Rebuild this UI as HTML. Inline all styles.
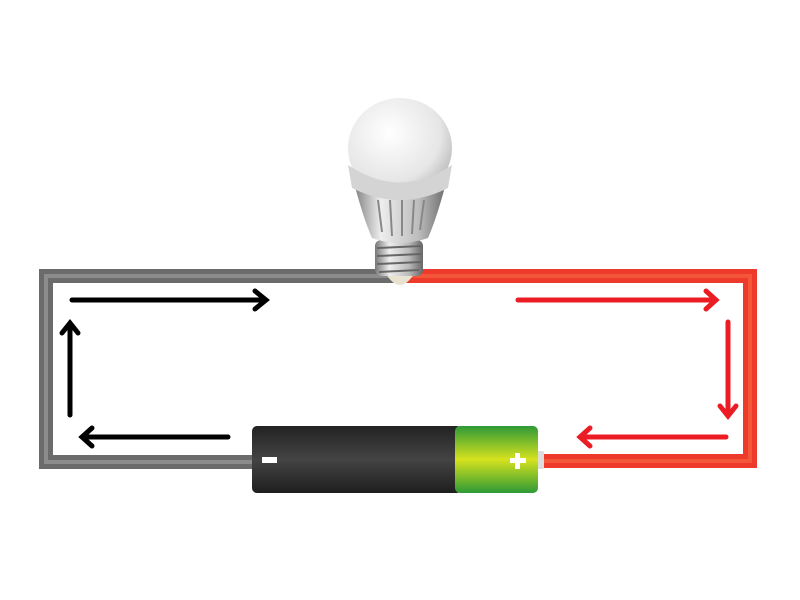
<!DOCTYPE html>
<html><head><style>body{margin:0;background:#fff}svg{display:block}</style></head><body>
<svg width="800" height="600" viewBox="0 0 800 600" xmlns="http://www.w3.org/2000/svg">
<defs>
<linearGradient id="bat" x1="0" y1="0" x2="0" y2="1"><stop offset="0" stop-color="#222"/><stop offset=".5" stop-color="#444"/><stop offset="1" stop-color="#1e1e1e"/></linearGradient>
<linearGradient id="grn" x1="0" y1="0" x2="0" y2="1"><stop offset="0" stop-color="#2e9a36"/><stop offset=".5" stop-color="#d6e21e"/><stop offset="1" stop-color="#2e9a36"/></linearGradient>
<radialGradient id="glb" cx=".4" cy=".35" r=".7"><stop offset="0" stop-color="#fff"/><stop offset=".7" stop-color="#e6e6e6"/><stop offset="1" stop-color="#b8b8b8"/></radialGradient>
<linearGradient id="met" x1="0" y1="0" x2="1" y2="0"><stop offset="0" stop-color="#777"/><stop offset=".3" stop-color="#eee"/><stop offset=".7" stop-color="#bbb"/><stop offset="1" stop-color="#666"/></linearGradient>
</defs>
<path d="M395 276 H46 V462 H255" fill="none" stroke="#6b6b6b" stroke-width="14"/>
<path d="M395 276 H46 V462 H255" fill="none" stroke="#8c8c8c" stroke-width="4"/>
<path d="M405 276 H750 V461 H540" fill="none" stroke="#ee3a2a" stroke-width="14"/>
<path d="M405 276 H750 V461 H540" fill="none" stroke="#f4563a" stroke-width="4"/>
<rect x="537" y="451" width="7" height="18" rx="2" fill="#ddd"/>
<rect x="252" y="426" width="210" height="67" rx="5" fill="url(#bat)"/>
<rect x="455" y="426" width="83" height="67" rx="5" fill="url(#grn)"/>
<rect x="262" y="457" width="15" height="6" fill="#fff"/>
<rect x="510" y="458" width="16" height="5" fill="#fff"/><rect x="515" y="453" width="5" height="16" fill="#fff"/>
<path d="M386 274 Q400 296 414 274 Z" fill="#e8e3d0"/>
<rect x="375" y="240" width="48" height="36" rx="6" fill="url(#met)"/>
<g stroke="#666" stroke-width="2"><line x1="377" y1="248" x2="421" y2="246"/><line x1="377" y1="256" x2="421" y2="254"/><line x1="377" y1="264" x2="421" y2="262"/><line x1="379" y1="272" x2="419" y2="270"/></g>
<path d="M352 175 Q362 215 372 238 Q400 248 428 238 Q438 215 448 175 Z" fill="url(#met)"/>
<g stroke="#888" stroke-width="2"><line x1="378" y1="200" x2="382" y2="232"/><line x1="390" y1="200" x2="392" y2="236"/><line x1="402" y1="200" x2="402" y2="236"/><line x1="414" y1="200" x2="412" y2="234"/><line x1="424" y1="200" x2="420" y2="230"/></g>
<ellipse cx="400" cy="148" rx="52" ry="50" fill="url(#glb)"/>
<path d="M348 165 Q400 200 452 165 L448 188 Q400 212 352 188 Z" fill="#d4d4d4"/>
<g stroke-width="5" fill="none" stroke-linecap="round" stroke-linejoin="miter">
<g stroke="#000">
<line x1="72" y1="300" x2="264" y2="300"/><path d="M255 291 L266 300 L255 309"/>
<line x1="70" y1="415" x2="70" y2="326"/><path d="M62 333 L70 323 L78 333"/>
<line x1="228" y1="437" x2="84" y2="437"/><path d="M92 428 L82 437 L92 446"/>
</g>
<g stroke="#ec1c24">
<line x1="518" y1="300" x2="714" y2="300"/><path d="M706 291 L716 300 L706 309"/>
<line x1="728" y1="322" x2="728" y2="414"/><path d="M720 406 L728 416 L736 406"/>
<line x1="726" y1="437" x2="582" y2="437"/><path d="M590 428 L580 437 L590 446"/>
</g>
</g>
</svg>
</body></html>
